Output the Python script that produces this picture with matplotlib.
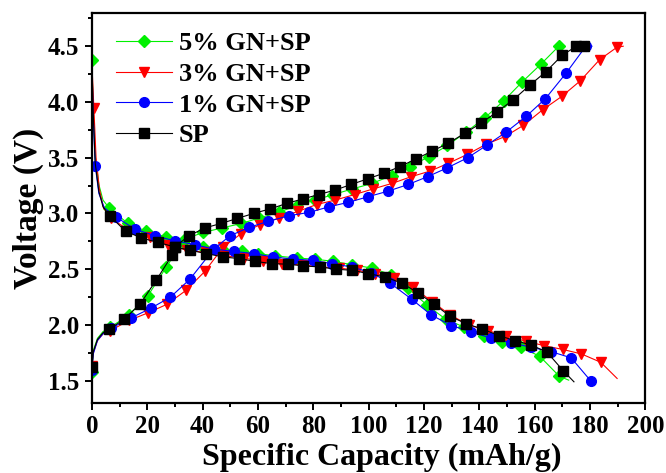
import matplotlib
matplotlib.use("Agg")
import matplotlib.pyplot as plt
from matplotlib.ticker import MultipleLocator

# ---------------- data ----------------
labels = ["5% GN+SP", "3% GN+SP", "1% GN+SP", "SP"]

# 5% GN+SP
gn5_charge_x = [0, 0.5, 2, 4, 6.7, 13.4, 20.2, 26.9, 33.5, 40.3, 47.0, 54.0, 60.5, 67.5, 74.0, 80.6,
                87.3, 94.1, 101.3, 108.3, 115.0, 121.8, 128.5, 135.2, 142.1, 148.8, 155.5, 162.3, 168.7, 170.5]
gn5_charge_y = [1.58, 1.77, 1.88, 1.94, 1.98, 2.09, 2.26, 2.52, 2.77, 2.83, 2.87, 2.91, 2.96, 3.01, 3.07, 3.12,
                3.17, 3.22, 3.27, 3.34, 3.42, 3.51, 3.61, 3.73, 3.86, 4.01, 4.18, 4.34, 4.50, 4.50]
gn5_dis_x = [0, 0.4, 1.2, 2.5, 4, 6.2, 13.0, 19.7, 26.7, 33.0, 40.2, 47.4, 54.1, 60.2, 66.1, 74.0, 80.6,
             87.3, 94.1, 101.2, 108.2, 114.2, 121.0, 127.9, 134.6, 141.6, 148.2, 154.9, 161.8, 168.9, 172.3]
gn5_dis_y = [4.38, 3.98, 3.52, 3.26, 3.12, 3.05, 2.91, 2.84, 2.79, 2.74, 2.70, 2.67, 2.66, 2.64, 2.62, 2.60, 2.59,
             2.57, 2.54, 2.51, 2.45, 2.33, 2.18, 2.05, 1.98, 1.905, 1.845, 1.80, 1.72, 1.54, 1.505]

# 3% GN+SP
gn3_charge_x = [0, 0.5, 2, 4, 6.7, 13.4, 20.4, 27.1, 34.0, 40.8, 47.5, 54.0, 60.8, 67.7, 74.6, 81.2, 87.9,
                95.0, 101.6, 108.5, 115.4, 122.2, 128.8, 135.7, 142.4, 149.3, 155.9, 162.9, 169.8, 176.5,
                183.5, 189.7, 192.0]
gn3_charge_y = [1.63, 1.75, 1.86, 1.92, 1.95, 2.04, 2.11, 2.185, 2.31, 2.48, 2.70, 2.82, 2.90, 2.96, 3.02, 3.08, 3.12,
                3.17, 3.22, 3.27, 3.33, 3.38, 3.45, 3.53, 3.62, 3.69, 3.79, 3.93, 4.05, 4.19,
                4.38, 4.49, 4.50]
gn3_dis_x = [0, 0.7, 1.5, 2.7, 4.2, 7.0, 13.9, 20.9, 27.5, 34.2, 41.4, 48.0, 54.9, 61.7, 68.6, 75.8, 82.4,
             89.4, 95.7, 102.3, 109.0, 116.0, 122.9, 129.5, 136.1, 143.0, 149.8, 156.7, 163.3, 170.2,
             176.9, 183.9, 189.8]
gn3_dis_y = [4.34, 3.95, 3.50, 3.22, 3.05, 2.955, 2.84, 2.79, 2.72, 2.67, 2.65, 2.62, 2.60, 2.57, 2.55, 2.54, 2.52,
             2.51, 2.49, 2.46, 2.42, 2.34, 2.21, 2.09, 2.00, 1.95, 1.90, 1.855, 1.815, 1.78,
             1.74, 1.665, 1.52]

# 1% GN+SP
gn1_charge_x = [0, 0.5, 2, 4, 6.9, 14.3, 21.3, 28.4, 35.4, 44.0, 49.9, 56.8, 63.8, 71.3, 78.6, 85.7, 92.7,
                99.8, 107.0, 114.3, 121.3, 128.5, 135.8, 142.6, 149.7, 156.9, 163.9, 171.4, 178.5, 180.7]
gn1_charge_y = [1.60, 1.74, 1.86, 1.92, 1.97, 2.065, 2.15, 2.25, 2.41, 2.68, 2.80, 2.875, 2.93, 2.98, 3.01, 3.06, 3.10,
                3.15, 3.20, 3.26, 3.33, 3.41, 3.50, 3.61, 3.73, 3.87, 4.03, 4.26, 4.50, 4.50]
gn1_dis_x = [0, 0.4, 1.2, 2.5, 4.5, 8.6, 15.5, 22.7, 29.9, 37.2, 44.1, 51.3, 58.5, 65.5, 72.8, 79.8, 86.7,
             93.9, 100.8, 107.8, 115.6, 122.6, 129.8, 137.0, 144.3, 151.5, 158.7, 166.0, 173.2, 180.2]
gn1_dis_y = [4.38, 3.90, 3.43, 3.18, 3.05, 2.97, 2.86, 2.80, 2.755, 2.72, 2.68, 2.66, 2.64, 2.61, 2.59, 2.58, 2.55,
             2.52, 2.47, 2.375, 2.23, 2.09, 1.995, 1.94, 1.88, 1.84, 1.80, 1.76, 1.705, 1.50]

# SP
sp_charge_x = [0, 0.5, 2, 4, 6.2, 11.6, 17.5, 23.2, 29.1, 29.9, 35.1, 40.8, 46.6, 52.5, 58.4, 64.3, 70.4, 76.2,
               82.0, 87.9, 93.7, 99.6, 105.4, 111.3, 117.2, 123.0, 128.8, 134.8, 140.6, 146.4, 152.3, 158.2,
               164.0, 170.0, 175.1, 177.9]
sp_charge_y = [1.62, 1.76, 1.87, 1.93, 1.96, 2.05, 2.19, 2.40, 2.63, 2.70, 2.80, 2.87, 2.91, 2.955, 3.00, 3.04, 3.09, 3.13,
               3.17, 3.21, 3.26, 3.31, 3.36, 3.42, 3.49, 3.56, 3.63, 3.72, 3.81, 3.91, 4.02, 4.15,
               4.27, 4.42, 4.50, 4.50]
sp_dis_x = [0, 0.4, 1.2, 2.5, 4, 6.4, 12.2, 17.9, 23.9, 29.9, 35.4, 41.4, 47.4, 53.2, 59.0, 65.0, 70.7, 76.4,
            82.4, 88.2, 94.1, 99.9, 106.0, 112.0, 117.7, 123.5, 129.3, 135.3, 141.0, 147.0, 152.8, 158.8,
            164.5, 170.3, 174.2]
sp_dis_y = [4.38, 3.95, 3.45, 3.20, 3.06, 2.98, 2.84, 2.78, 2.74, 2.70, 2.67, 2.64, 2.61, 2.595, 2.57, 2.55, 2.545, 2.53,
            2.52, 2.50, 2.49, 2.46, 2.43, 2.375, 2.29, 2.19, 2.08, 2.01, 1.965, 1.905, 1.86, 1.82,
            1.755, 1.59, 1.49]

# ---------------- styling ----------------
FONT = "Liberation Serif"
plt.rcParams["font.family"] = [FONT, "DejaVu Serif"]
plt.rcParams["font.weight"] = "bold"

fig = plt.figure(figsize=(6.66, 4.73), dpi=100)
ax = fig.add_axes([0.138, 0.148, 0.831, 0.825])

series = [
    (labels[0], "#00f000", "D", 6.5, gn5_charge_x, gn5_charge_y, gn5_dis_x, gn5_dis_y, [1, 2, 3], [1, 2, 3, 4], True, True),
    (labels[1], "#ff0000", "v", 7.5, gn3_charge_x, gn3_charge_y, gn3_dis_x, gn3_dis_y, [1, 2, 3], [0, 2, 3, 4], True, True),
    (labels[2], "#0000ff", "o", 7.0, gn1_charge_x, gn1_charge_y, gn1_dis_x, gn1_dis_y, [1, 2, 3], [0, 1, 3, 4], True, False),
    (labels[3], "#000000", "s", 6.5, sp_charge_x, sp_charge_y, sp_dis_x, sp_dis_y, [1, 2, 3], [0, 1, 2, 3, 4], False, True),
]

for lab, col, mk, ms, cx, cy, dx, dy, skip_c, skip_d, end_c, end_d in series:
    n = len(cx)
    me_c = [i for i in range(n) if i not in skip_c and not (end_c and i == n - 1)]
    m = len(dx)
    me_d = [i for i in range(m) if i not in skip_d and not (end_d and i == m - 1)]
    ax.plot(cx, cy, color=col, lw=0.8, marker=mk, ms=ms, mec=col, mfc=col, markevery=me_c, label=lab)
    ax.plot(dx, dy, color=col, lw=0.8, marker=mk, ms=ms, mec=col, mfc=col, markevery=me_d)

ax.set_xlim(0, 200)
ax.set_ylim(1.3, 4.8)
ax.xaxis.set_major_locator(MultipleLocator(20))
ax.xaxis.set_minor_locator(MultipleLocator(10))
ax.yaxis.set_major_locator(MultipleLocator(0.5))
ax.yaxis.set_minor_locator(MultipleLocator(0.25))
ax.yaxis.set_major_formatter(matplotlib.ticker.FormatStrFormatter("%.1f"))

for sp in ax.spines.values():
    sp.set_linewidth(1.6)
ax.tick_params(which="both", direction="out", width=1.4, top=False, right=False)
ax.tick_params(which="major", length=5, labelsize=18, pad=4)
ax.tick_params(which="minor", length=3)
for t in ax.get_xticklabels() + ax.get_yticklabels():
    t.set_fontweight("bold")

ax.set_xlabel("Specific Capacity (mAh/g)", fontsize=23, fontweight="bold")
ax.xaxis.set_label_coords(0.523, -0.101)
ax.set_ylabel("Voltage (V)", fontsize=24, fontweight="bold", labelpad=3)

leg = ax.legend(loc="upper left", bbox_to_anchor=(0.0, 1.012), frameon=False,
                prop={"family": FONT, "weight": "bold", "size": 19},
                handlelength=2.15, handletextpad=0.25, labelspacing=0.27, numpoints=1)

fig.savefig("out.png", dpi=100)
